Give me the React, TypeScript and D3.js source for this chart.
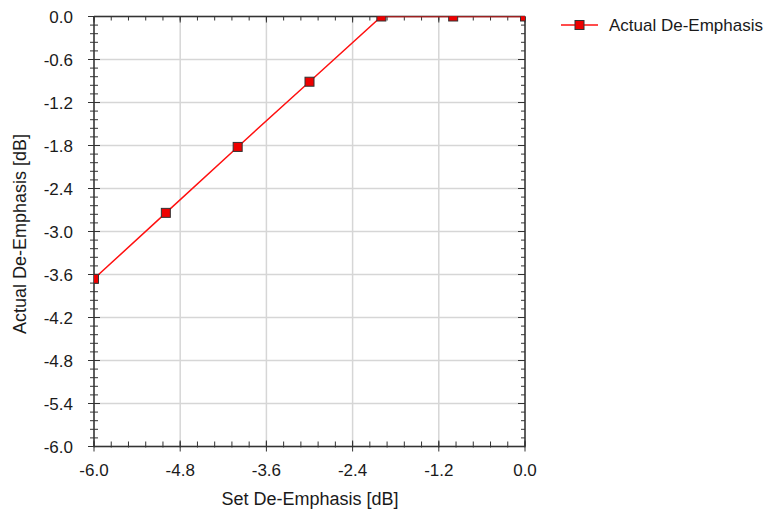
import React from "react";
import * as d3 from "d3";

const xValues = [-6, -5, -4, -3, -2, -1, 0];
const yValues = [-3.66, -2.74, -1.82, -0.91, 0, 0, 0];
const xTicks = [-6.0, -4.8, -3.6, -2.4, -1.2, 0.0];
const yTicks = [0.0, -0.6, -1.2, -1.8, -2.4, -3.0, -3.6, -4.2, -4.8, -5.4, -6.0];
const seriesName = "Actual De-Emphasis";
const xTitle = "Set De-Emphasis [dB]";
const yTitle = "Actual De-Emphasis [dB]";

const W = 771, H = 513;
const L = 94, R = 525, T = 16.5, B = 446.5;

export default function App() {
  const x = d3.scaleLinear().domain([-6, 0]).range([L, R]);
  const y = d3.scaleLinear().domain([-6, 0]).range([B, T]);
  const xMinor = d3.range(-6, 0.0001, 0.24).map((v) => +v.toFixed(2));
  const yMinor = d3.range(-6, 0.0001, 0.12).map((v) => +v.toFixed(2));
  const data = xValues.map((v, i) => [v, yValues[i]] as [number, number]);
  const line = d3.line<[number, number]>().x((d) => x(d[0])).y((d) => y(d[1]));
  const font = "'Liberation Sans', Arial, sans-serif";
  const axisColor = "#333";
  const textColor = "#1a1a1a";
  return (
    <svg width={W} height={H} style={{ position: "absolute", left: 0, top: 0, background: "#fff" }} fontFamily={font}>
      <defs>
        <clipPath id="plotclip">
          <rect x={L} y={T} width={R - L} height={B - T} />
        </clipPath>
      </defs>
      {/* grid */}
      {xTicks.map((t) => (
        <line key={"gx" + t} x1={x(t)} x2={x(t)} y1={T} y2={B} stroke="#d6d6d6" strokeWidth={1.5} />
      ))}
      {yTicks.map((t) => (
        <line key={"gy" + t} x1={L} x2={R} y1={y(t)} y2={y(t)} stroke="#d6d6d6" strokeWidth={1.5} />
      ))}
      {/* minor ticks */}
      {xMinor.map((t, i) => (
        <g key={"xm" + i} stroke={axisColor} strokeWidth={1}>
          <line x1={x(t)} x2={x(t)} y1={B - 5} y2={B + 1} />
          <line x1={x(t)} x2={x(t)} y1={T} y2={T + 4} />
        </g>
      ))}
      {yMinor.map((t, i) => (
        <g key={"ym" + i} stroke={axisColor} strokeWidth={1}>
          <line x1={L - 4} x2={L + 4} y1={y(t)} y2={y(t)} />
          <line x1={R - 4} x2={R} y1={y(t)} y2={y(t)} />
        </g>
      ))}
      {/* major ticks */}
      {xTicks.map((t) => (
        <g key={"xM" + t} stroke={axisColor} strokeWidth={1}>
          <line x1={x(t)} x2={x(t)} y1={B - 6} y2={B + 5} />
          <line x1={x(t)} x2={x(t)} y1={T} y2={T + 6} />
        </g>
      ))}
      {yTicks.map((t) => (
        <g key={"yM" + t} stroke={axisColor} strokeWidth={1}>
          <line x1={L - 6} x2={L + 6} y1={y(t)} y2={y(t)} />
          <line x1={R - 7} x2={R} y1={y(t)} y2={y(t)} />
        </g>
      ))}
      {/* axis frame */}
      <g stroke={axisColor} strokeWidth={1.5} fill="none">
        <line x1={L} x2={R} y1={B} y2={B} />
        <line x1={L} x2={R} y1={T} y2={T} />
        <line x1={L} x2={L} y1={T} y2={B} />
        <line x1={R} x2={R} y1={T} y2={B} />
      </g>
      {/* tick labels */}
      {xTicks.map((t) => (
        <text key={"xl" + t} x={x(t)} y={B + 29} textAnchor="middle" fontSize={17} fill={textColor}>
          {t.toFixed(1)}
        </text>
      ))}
      {yTicks.map((t) => (
        <text key={"yl" + t} x={73} y={y(t) + 6} textAnchor="end" fontSize={17} fill={textColor}>
          {t.toFixed(1)}
        </text>
      ))}
      {/* axis titles */}
      <text x={310} y={505} textAnchor="middle" fontSize={18} fill={textColor}>{xTitle}</text>
      <text transform={`translate(26, 234) rotate(-90)`} textAnchor="middle" fontSize={18} fill={textColor}>{yTitle}</text>
      {/* series */}
      <g clipPath="url(#plotclip)">
        <path d={line(data) || ""} fill="none" stroke="#ff1010" strokeWidth={1.5} />
        {data.map((d, i) => (
          <rect key={"m" + i} x={x(d[0]) - 4.5} y={y(d[1]) - 4.5} width={9} height={9} fill="#ee0000" stroke="#333" strokeWidth={1} />
        ))}
      </g>
      {/* legend */}
      <line x1={561} x2={598} y1={25} y2={25} stroke="#ff1010" strokeWidth={1.5} />
      <rect x={579.5 - 4.5} y={25 - 4.5} width={9} height={9} fill="#ee0000" stroke="#333" strokeWidth={1} />
      <text x={609} y={31} fontSize={17} fill={textColor}>{seriesName}</text>
    </svg>
  );
}
